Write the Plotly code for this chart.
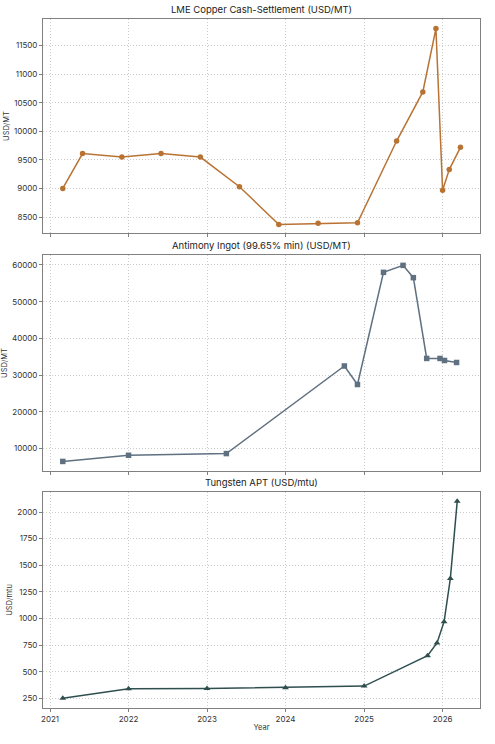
import plotly.graph_objects as go
from plotly.subplots import make_subplots

copper_dates = ["2021-03-01", "2021-06-01", "2021-12-01", "2022-06-01", "2022-12-01",
                "2023-06-01", "2023-12-01", "2024-06-01", "2024-12-01", "2025-06-01",
                "2025-10-01", "2025-12-01", "2026-01-01", "2026-02-01", "2026-03-25"]
copper_vals = [9000, 9610, 9550, 9610, 9550, 9030, 8370, 8390, 8400, 9830,
               10690, 11800, 8970, 9330, 9720]

antimony_dates = ["2021-03-01", "2022-01-01", "2023-04-01", "2024-10-01", "2024-12-01",
                  "2025-04-01", "2025-07-01", "2025-08-18", "2025-10-19", "2025-12-20",
                  "2026-01-10", "2026-03-07"]
antimony_vals = [6500, 8180, 8640, 32500, 27450, 58000, 59900, 56550, 34550, 34550,
                 34000, 33450]

tungsten_dates = ["2021-03-01", "2022-01-01", "2023-01-01", "2024-01-01", "2025-01-01",
                  "2025-10-23", "2025-12-06", "2026-01-08", "2026-02-06", "2026-03-10"]
tungsten_vals = [250, 340, 342, 350, 365, 650, 770, 970, 1375, 2100]

titles = ["LME Copper Cash-Settlement (USD/MT)",
          "Antimony Ingot (99.65% min) (USD/MT)",
          "Tungsten APT (USD/mtu)"]
y_titles = ["USD/MT", "USD/MT", "USD/mtu"]

FONT = "Inter, Roboto, sans-serif"

fig = make_subplots(rows=3, cols=1, shared_xaxes=True, subplot_titles=titles,
                    vertical_spacing=0.03)

fig.add_trace(go.Scatter(x=copper_dates, y=copper_vals, mode="lines+markers",
                         line=dict(color="#b87333", width=1.5),
                         marker=dict(symbol="circle", size=5.5, color="#b87333")),
              row=1, col=1)
fig.add_trace(go.Scatter(x=antimony_dates, y=antimony_vals, mode="lines+markers",
                         line=dict(color="#5f7081", width=1.5),
                         marker=dict(symbol="square", size=5.5, color="#5f7081")),
              row=2, col=1)
fig.add_trace(go.Scatter(x=tungsten_dates, y=tungsten_vals, mode="lines+markers",
                         line=dict(color="#2f4f4f", width=1.5),
                         marker=dict(symbol="triangle-up", size=6, color="#2f4f4f")),
              row=3, col=1)

domains = [[0.6894, 1.0], [0.344, 0.6575], [0.0, 0.3135]]
yranges = [[8220, 11967], [3900, 62727], [159, 2188]]
ydticks = [500, 10000, 250]
y0s = [8500, 10000, 250]

for i in range(3):
    ax = "yaxis" if i == 0 else f"yaxis{i+1}"
    fig.layout[ax].update(domain=domains[i], range=yranges[i], dtick=ydticks[i],
                          tick0=y0s[i], tickformat="d", automargin=False,
                          showgrid=True, gridcolor="#cccccc", griddash="1px,2px", gridwidth=1,
                          showline=True, mirror=True, linecolor="#808080", linewidth=1,
                          ticks="outside", ticklen=3, tickcolor="#808080",
                          tickfont=dict(size=8, color="#333333", family=FONT),
                          zeroline=False,
                          title=dict(text=y_titles[i], font=dict(size=7.5, color="#333333", family=FONT),
                                     standoff=3))
    xa = "xaxis" if i == 0 else f"xaxis{i+1}"
    fig.layout[xa].update(range=["2020-11-29", "2026-06-24"], type="date",
                          dtick="M12", tick0="2021-01-01", tickformat="%Y", automargin=False,
                          showgrid=True, gridcolor="#cccccc", griddash="1px,2px", gridwidth=1,
                          showline=True, mirror=True, linecolor="#808080", linewidth=1,
                          ticks="outside", ticklen=3, tickcolor="#808080",
                          tickfont=dict(size=8, color="#333333", family=FONT),
                          zeroline=False)

fig.layout.xaxis3.title = dict(text="Year", font=dict(size=7.5, color="#333333", family=FONT),
                               standoff=2)

# position subplot titles
title_y = [1.0, 0.6575, 0.3135]
for i, ann in enumerate(fig.layout.annotations):
    ann.update(y=title_y[i], yanchor="bottom", yshift=2,
               font=dict(size=9.5, color="#222222", family=FONT))

fig.update_layout(width=495, height=744, showlegend=False,
                  margin=dict(l=43, r=15, t=19, b=36),
                  paper_bgcolor="white", plot_bgcolor="white",
                  font=dict(family=FONT))

fig.write_html("out.html")
